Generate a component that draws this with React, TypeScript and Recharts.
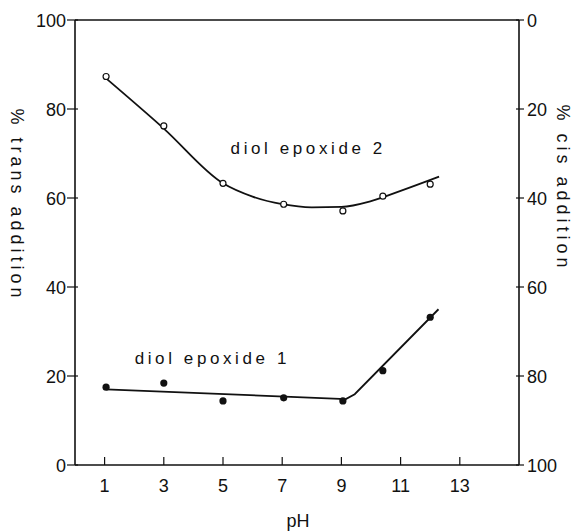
import React from "react";
import {
  ComposedChart, Line, XAxis, YAxis, ReferenceLine, ReferenceDot, Label,
} from "recharts";

// observed points
const obsPh = [1.05, 3, 5, 7.05, 9.05, 10.4, 12];
const epoxide2Obs = [87.3, 76.2, 63.3, 58.6, 57.1, 60.4, 63.1];
const epoxide1Obs = [17.5, 18.4, 14.4, 15.1, 14.4, 21.2, 33.2];

// drawn fit curves
const fit2Ph = [1.08, 3, 5, 6, 7, 8, 9, 10, 11, 12.3];
const fit2Val = [86.7, 75.6, 63.3, 60.3, 58.6, 57.9, 58.0, 59.3, 61.6, 64.8];
const fit1Ph = [1.05, 9.15, 9.45, 12.28];
const fit1Val = [17.0, 14.8, 15.9, 35.0];

const phTicks = [1, 3, 5, 7, 9, 11, 13];
const pctTicks = [0, 20, 40, 60, 80, 100];

const ink = "#111";
const font = "'Liberation Sans', Arial, sans-serif";

const obs2 = obsPh.map((ph, i) => ({ ph, v: epoxide2Obs[i] }));
const obs1 = obsPh.map((ph, i) => ({ ph, v: epoxide1Obs[i] }));
const fit2 = fit2Ph.map((ph, i) => ({ ph, v: fit2Val[i] }));
const fit1 = fit1Ph.map((ph, i) => ({ ph, v: fit1Val[i] }));
// cis = 100 - trans, only so the right axis has a series bound to it
const cis1 = obs1.map((d) => ({ ph: d.ph, c: 100 - d.v }));

const XTick = (p: any) => (
  <g>
    <line x1={p.x} x2={p.x} y1={p.y - 8} y2={p.y} stroke={ink} strokeWidth={1.2} />
    <text x={p.x} y={p.y + 27} textAnchor="middle" fontSize={18} fill={ink} fontFamily={font}>
      {p.payload.value}
    </text>
  </g>
);

const LeftTick = (p: any) => (
  <g>
    <line x1={p.x - 8} x2={p.x + 3} y1={p.y} y2={p.y} stroke={ink} strokeWidth={1.2} />
    <text x={p.x - 9} y={p.y + 7} textAnchor="end" fontSize={18} fill={ink} fontFamily={font}>
      {p.payload.value}
    </text>
  </g>
);

const RightTick = (p: any) => (
  <g>
    <line x1={p.x - 3} x2={p.x + 5} y1={p.y} y2={p.y} stroke={ink} strokeWidth={1.2} />
    <text x={p.x + 8} y={p.y + 7} textAnchor="start" fontSize={18} fill={ink} fontFamily={font}>
      {p.payload.value}
    </text>
  </g>
);

const rotTitle = (text: string, x: number, y: number) => () => (
  <text
    transform={`translate(${x},${y}) rotate(90)`}
    textAnchor="middle" dominantBaseline="central"
    fontSize={18} letterSpacing={4} fill={ink} fontFamily={font}
  >
    {text}
  </text>
);

const seriesLabel = (text: string) => (p: any) => {
  const vb = p.viewBox || {};
  return (
    <text
      x={vb.x + (vb.width || 0) / 2} y={vb.y + (vb.height || 0) / 2}
      textAnchor="middle" dominantBaseline="central"
      fontSize={17} letterSpacing={3.6} fill={ink} fontFamily={font}
    >
      {text}
    </text>
  );
};

const OpenDot = (p: any) => (
  <circle key={p.index} cx={p.cx} cy={p.cy} r={3} fill="#fff" stroke={ink} strokeWidth={1.2} />
);
const FilledDot = (p: any) => (
  <circle key={p.index} cx={p.cx} cy={p.cy} r={3.6} fill={ink} />
);

export default function App() {
  return (
    <div style={{ position: "absolute", left: 0, top: 0, width: 580, height: 532, background: "#fff" }}>
      <ComposedChart width={580} height={532} margin={{ top: 20, right: 16, left: 30, bottom: 37 }}>
        <XAxis
          type="number" dataKey="ph" domain={[0, 15]} ticks={phTicks}
          axisLine={{ stroke: ink, strokeWidth: 1.6 }} tickLine={false}
          tickSize={0} tickMargin={0} height={30} tick={XTick} allowDataOverflow
        >
          <Label content={() => (
            <text x={298} y={527} textAnchor="middle" fontSize={18} fill={ink} fontFamily={font}>pH</text>
          )} />
        </XAxis>
        <YAxis
          yAxisId="left" domain={[0, 100]} ticks={pctTicks} width={45}
          axisLine={{ stroke: ink, strokeWidth: 1.6 }} tickLine={false}
          tickSize={0} tickMargin={0} tick={LeftTick}
        >
          <Label content={rotTitle("% trans addition", 17, 205)} />
        </YAxis>
        <YAxis
          yAxisId="right" orientation="right" domain={[0, 100]} reversed ticks={pctTicks} width={45}
          axisLine={{ stroke: ink, strokeWidth: 1.6 }} tickLine={false}
          tickSize={0} tickMargin={0} tick={RightTick}
        >
          <Label content={rotTitle("% cis addition", 563, 188)} />
        </YAxis>
        <ReferenceLine yAxisId="left" y={100} stroke={ink} strokeWidth={1.6} />

        <Line yAxisId="right" data={cis1} dataKey="c" stroke="none"
          dot={false} activeDot={false} legendType="none" isAnimationActive={false} />
        <Line yAxisId="left" data={fit2} dataKey="v" type="monotone" stroke={ink} strokeWidth={1.8}
          dot={false} activeDot={false} isAnimationActive={false} />
        <Line yAxisId="left" data={fit1} dataKey="v" type="linear" stroke={ink} strokeWidth={1.8}
          dot={false} activeDot={false} isAnimationActive={false} />
        <Line yAxisId="left" data={obs2} dataKey="v" stroke="none"
          dot={OpenDot} activeDot={false} isAnimationActive={false} />
        <Line yAxisId="left" data={obs1} dataKey="v" stroke="none"
          dot={FilledDot} activeDot={false} isAnimationActive={false} />

        <ReferenceDot yAxisId="left" x={7.88} y={71.2} r={1} fill="none" stroke="none"
          label={seriesLabel("diol epoxide 2")} />
        <ReferenceDot yAxisId="left" x={4.64} y={24} r={1} fill="none" stroke="none"
          label={seriesLabel("diol epoxide 1")} />
      </ComposedChart>
    </div>
  );
}
